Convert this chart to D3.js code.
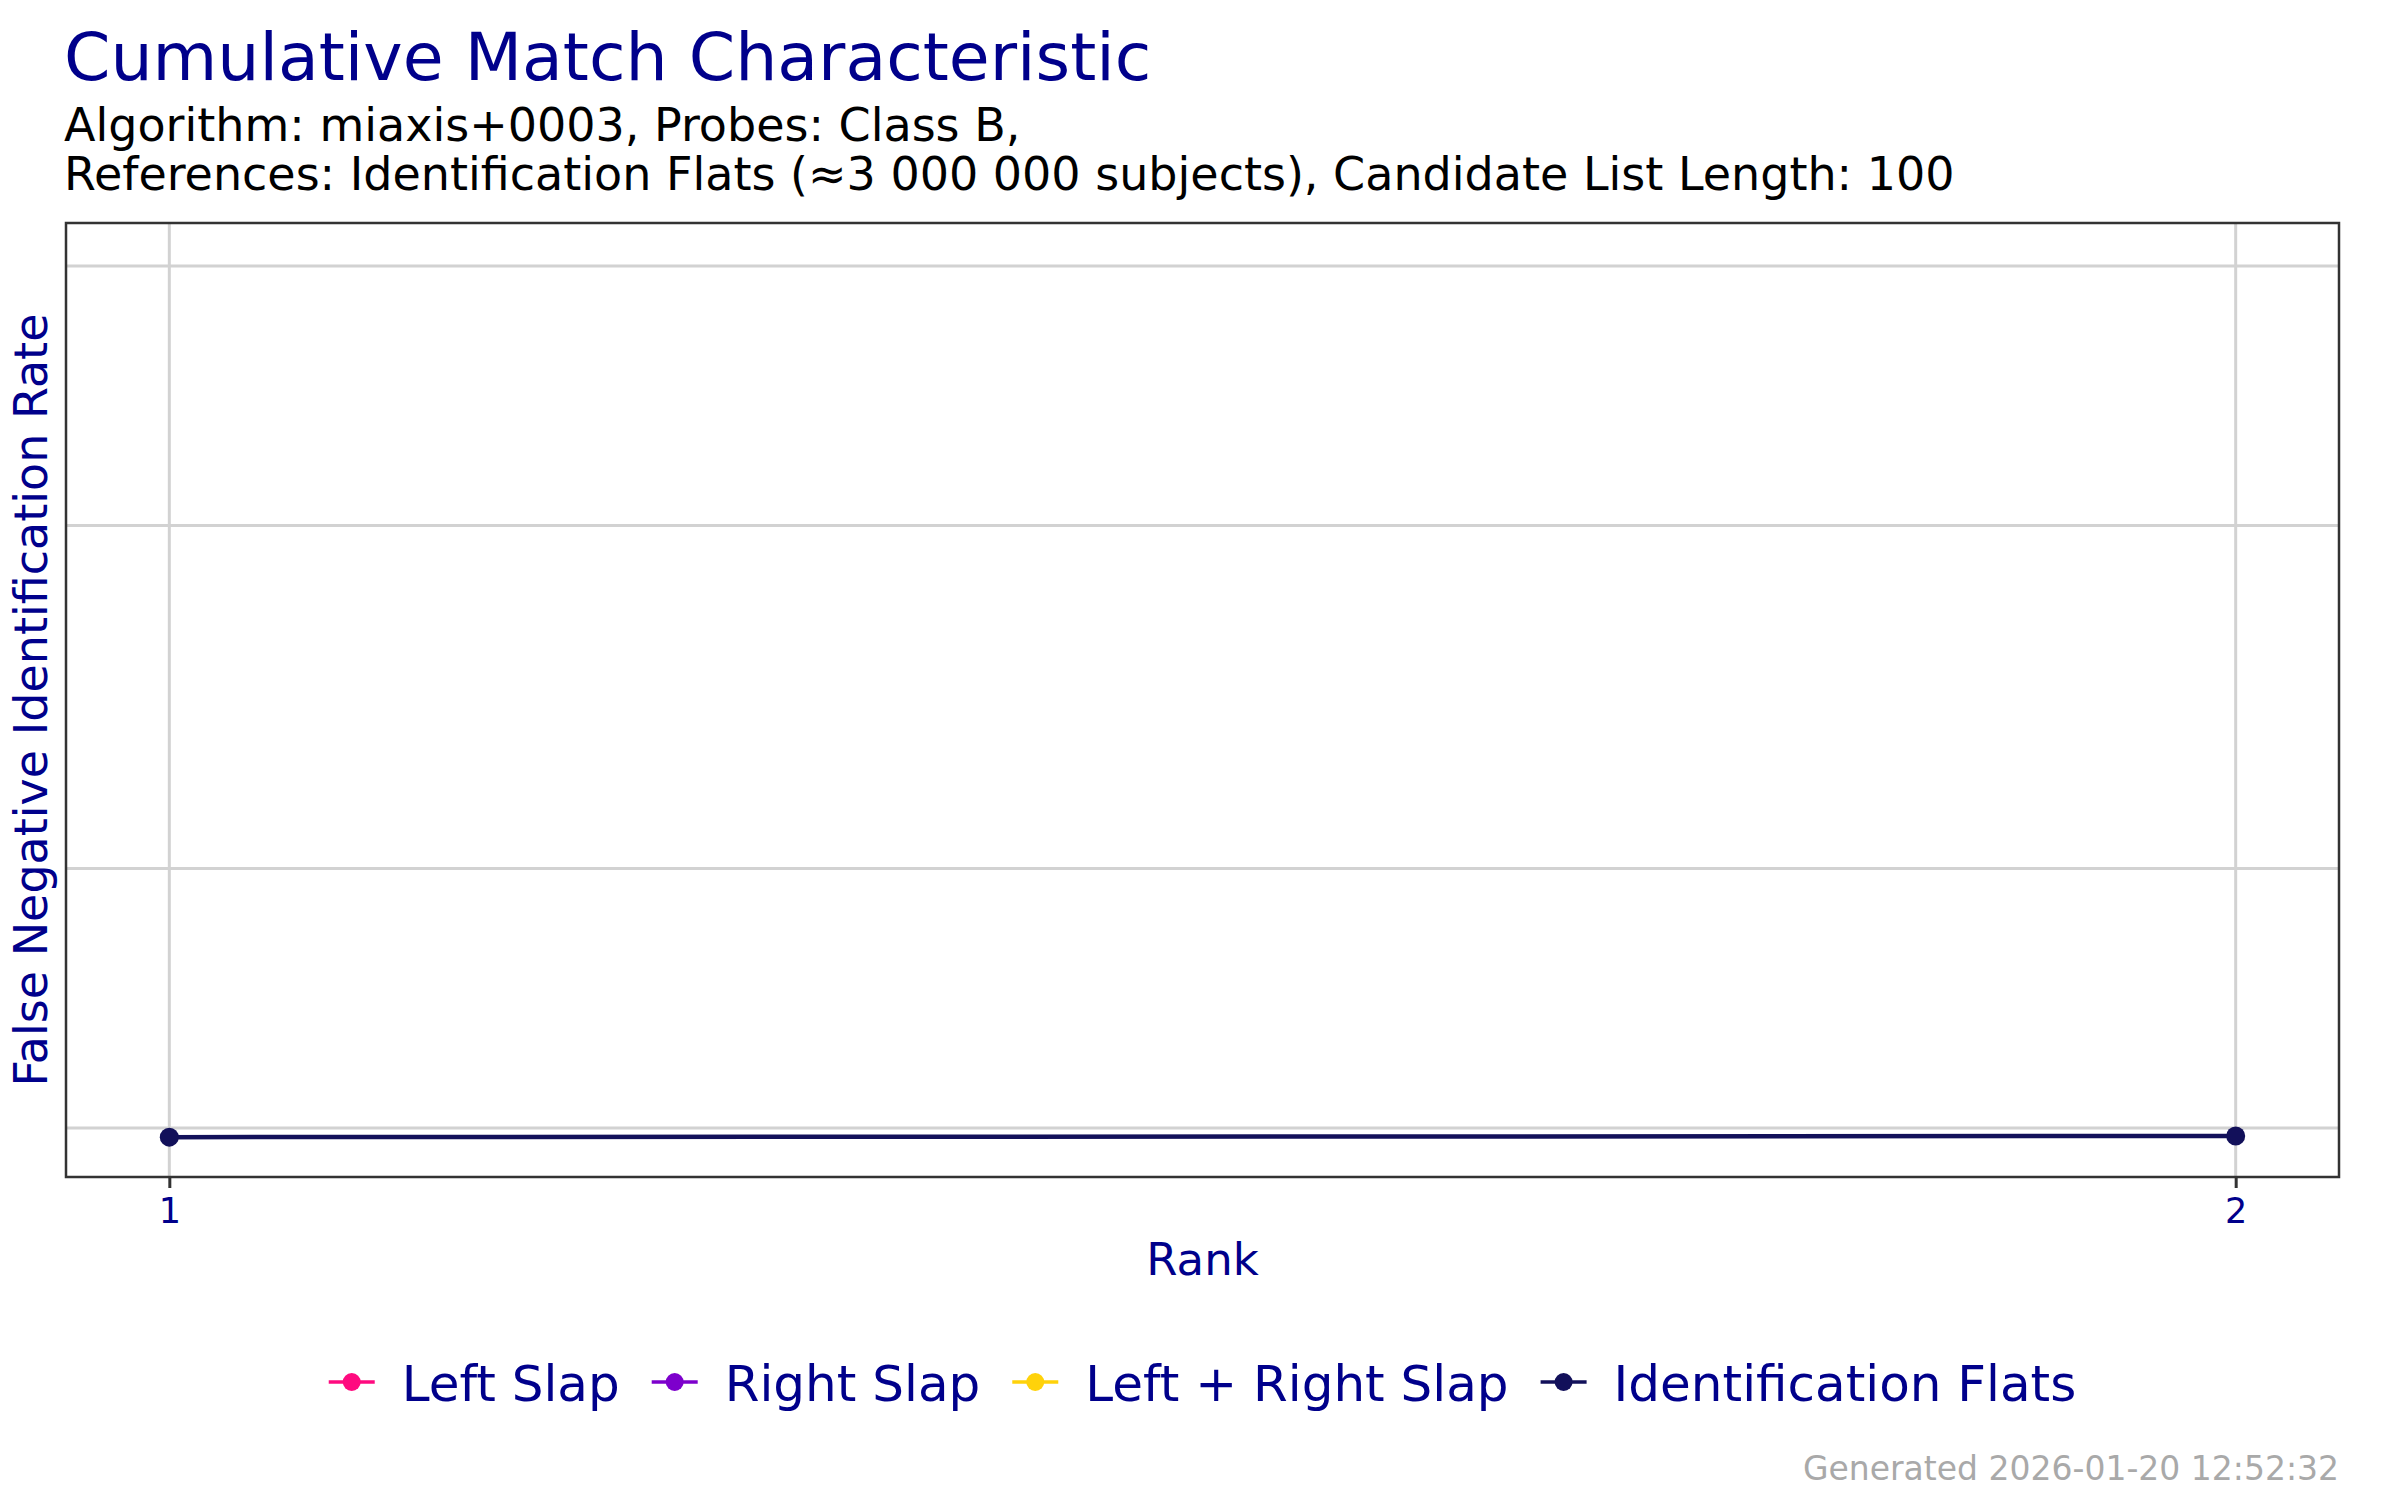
<!DOCTYPE html>
<html>
<head>
<meta charset="utf-8">
<script src="https://cdn.jsdelivr.net/npm/d3@7"></script>
<style>
  body { margin: 0; background: #fff; }
  svg { display: block; font-family: 'DejaVu Sans', sans-serif; }
</style>
</head>
<body>
<script>
// chart data
const ranks = [1, 2];
const flatsFnir = [0.00976, 0.00979];
const yGridValues = [0.01, 0.02, 0.05, 0.1];
const seriesNames = ['Left Slap', 'Right Slap', 'Left + Right Slap', 'Identification Flats'];
const seriesColors = ['#ff0a7f', '#7d00cc', '#ffd20a', '#12105a'];

const width = 2400;
const height = 1500;
const panel = { left: 66, right: 2339, top: 223, bottom: 1177 };
const navy = '#00008b';

let svg = d3.select('body')
  .append('svg')
  .attr('width', width)
  .attr('height', height);

// scales, padded like ggplot's default 5% expansion
let x = d3.scaleLinear()
  .domain([0.95, 2.05])
  .range([panel.left, panel.right]);

let y = d3.scaleLog()
  .domain([0.008774, 0.1122])
  .range([panel.bottom, panel.top]);

// grid
svg.append('g')
  .selectAll('line')
  .data(yGridValues)
  .enter()
  .append('line')
  .attr('x1', panel.left)
  .attr('x2', panel.right)
  .attr('y1', function (d) { return y(d); })
  .attr('y2', function (d) { return y(d); })
  .attr('stroke', '#d2d2d2')
  .attr('stroke-width', 3);

svg.append('g')
  .selectAll('line')
  .data(ranks)
  .enter()
  .append('line')
  .attr('x1', function (d) { return x(d); })
  .attr('x2', function (d) { return x(d); })
  .attr('y1', panel.top)
  .attr('y2', panel.bottom)
  .attr('stroke', '#d2d2d2')
  .attr('stroke-width', 3);

// series line + points
let points = ranks.map(function (r, i) { return [r, flatsFnir[i]]; });

let line = d3.line()
  .x(function (d) { return x(d[0]); })
  .y(function (d) { return y(d[1]); });

svg.append('path')
  .datum(points)
  .attr('d', line)
  .attr('fill', 'none')
  .attr('stroke', seriesColors[3])
  .attr('stroke-width', 4.5);

svg.append('g')
  .selectAll('circle')
  .data(points)
  .enter()
  .append('circle')
  .attr('cx', function (d) { return x(d[0]); })
  .attr('cy', function (d) { return y(d[1]); })
  .attr('r', 9.5)
  .attr('fill', seriesColors[3]);

// panel border
svg.append('rect')
  .attr('x', panel.left)
  .attr('y', panel.top)
  .attr('width', panel.right - panel.left)
  .attr('height', panel.bottom - panel.top)
  .attr('fill', 'none')
  .attr('stroke', '#333')
  .attr('stroke-width', 2.5);

// x axis
let xAxis = d3.axisBottom(x)
  .tickValues(ranks)
  .tickFormat(d3.format('d'))
  .tickSize(11)
  .tickPadding(10);

let xg = svg.append('g')
  .attr('transform', 'translate(0,' + panel.bottom + ')')
  .call(xAxis);

xg.select('.domain').remove();
xg.selectAll('.tick line').attr('stroke', '#333').attr('stroke-width', 3);
xg.selectAll('.tick text')
  .attr('fill', navy)
  .style('font-size', '35px')
  .style('font-family', 'DejaVu Sans');

// titles
svg.append('text')
  .attr('x', 64)
  .attr('y', 80)
  .attr('fill', navy)
  .style('font-size', '66.5px')
  .text('Cumulative Match Characteristic');

svg.append('text')
  .attr('x', 64)
  .attr('y', 141)
  .attr('fill', '#000')
  .style('font-size', '46px')
  .text('Algorithm: miaxis+0003, Probes: Class B,');

svg.append('text')
  .attr('x', 64)
  .attr('y', 190)
  .attr('fill', '#000')
  .style('font-size', '46px')
  .text('References: Identification Flats (\u22483 000 000 subjects), Candidate List Length: 100');

svg.append('text')
  .attr('transform', 'translate(47,' + (panel.top + panel.bottom) / 2 + ') rotate(-90)')
  .attr('text-anchor', 'middle')
  .attr('fill', navy)
  .style('font-size', '46px')
  .text('False Negative Identification Rate');

svg.append('text')
  .attr('x', (panel.left + panel.right) / 2)
  .attr('y', 1275)
  .attr('text-anchor', 'middle')
  .attr('fill', navy)
  .style('font-size', '45px')
  .text('Rank');

// legend, centred under the panel
let legend = svg.append('g');
let keyWidth = 46;
let keyGap = 27;
let itemGap = 32;
let cursor = 0;

seriesNames.forEach(function (name, i) {
  let item = legend.append('g').attr('transform', 'translate(' + cursor + ',0)');

  item.append('line')
    .attr('x1', 0)
    .attr('x2', keyWidth)
    .attr('y1', 0)
    .attr('y2', 0)
    .attr('stroke', seriesColors[i])
    .attr('stroke-width', 3.5);

  item.append('circle')
    .attr('cx', keyWidth / 2)
    .attr('cy', 0)
    .attr('r', 9)
    .attr('fill', seriesColors[i]);

  let label = item.append('text')
    .attr('x', keyWidth + keyGap)
    .attr('y', 19)
    .attr('fill', navy)
    .style('font-size', '50px')
    .text(name);

  cursor += keyWidth + keyGap + label.node().getComputedTextLength() + itemGap;
});

let legendWidth = cursor - itemGap;
legend.attr('transform', 'translate(' + ((panel.left + panel.right) / 2 - legendWidth / 2) + ',1382)');

// footer
svg.append('text')
  .attr('x', panel.right)
  .attr('y', 1480)
  .attr('text-anchor', 'end')
  .attr('fill', '#a9a9a9')
  .style('font-size', '33px')
  .text('Generated 2026-01-20 12:52:32');
</script>
</body>
</html>
